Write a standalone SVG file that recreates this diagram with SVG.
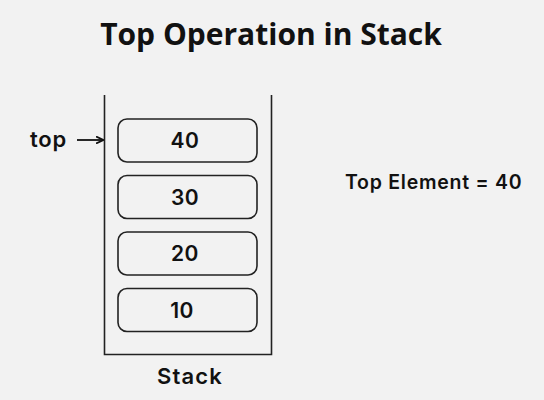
<svg xmlns="http://www.w3.org/2000/svg" width="544" height="400" viewBox="0 0 544 400">
<defs>
<style>
.t{font-family:Inter,"Noto Sans",sans-serif;font-weight:600;fill:#111}
.box{fill:#f2f2f2;stroke:#222;stroke-width:1.6}
.num{font-size:21px;text-anchor:middle;letter-spacing:0.5px}
</style>
<marker id="ah" markerWidth="8" markerHeight="8" refX="7" refY="4" orient="auto" markerUnits="userSpaceOnUse">
<path d="M0,0.5 L7.5,4 L0,7.5" fill="none" stroke="#111" stroke-width="1.8"/>
</marker>
</defs>
<rect width="544" height="400" fill="#f2f2f2"/>
<text x="271" y="45" text-anchor="middle" style="font-family:'Open Sans','Noto Sans',sans-serif;font-weight:700;font-size:30px;fill:#111">Top Operation in Stack</text>
<g id="container">
<path d="M104.5,95 V354.5 H271.5 V95" fill="none" stroke="#222" stroke-width="1.6"/>
<text class="t" x="190" y="384" text-anchor="middle" font-size="22" letter-spacing="1.2">Stack</text>
</g>
<g id="n40"><rect class="box" x="118" y="119" width="139" height="43" rx="9"/><text class="t num" x="185" y="148">40</text></g>
<g id="n30"><rect class="box" x="118" y="175.5" width="139" height="43" rx="9"/><text class="t num" x="185" y="204.5">30</text></g>
<g id="n20"><rect class="box" x="118" y="232" width="139" height="43" rx="9"/><text class="t num" x="185" y="261">20</text></g>
<g id="n10"><rect class="box" x="118" y="288.5" width="139" height="43" rx="9"/><text class="t num" x="182" y="317.5">10</text></g>
<g id="toplabel"><text class="t" x="30" y="147" font-size="22" letter-spacing="0.8">top</text></g>
<g id="result"><text class="t" x="345" y="189" font-size="19.5" letter-spacing="0.75">Top Element = 40</text></g>
<g id="connectors">
<line x1="77" y1="140" x2="103" y2="140" stroke="#111" stroke-width="1.8" marker-end="url(#ah)"/>
</g>
</svg>
